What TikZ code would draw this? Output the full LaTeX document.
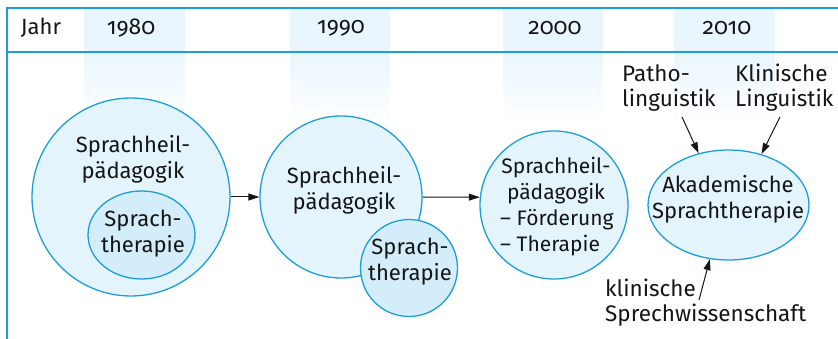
\documentclass[tikz,border=0pt]{standalone}
\usepackage{fontspec}
\setmainfont{Fira Sans}
\newfontfamily\yearfont[Numbers=OldStyle]{Fira Sans}
\usetikzlibrary{arrows.meta,shapes.geometric}
\definecolor{lineblue}{HTML}{1E9ED8}
\definecolor{circfill}{HTML}{E4F4FC}
\definecolor{innerfill}{HTML}{D4EDFA}
\definecolor{bandblue}{HTML}{EAF6FD}
\definecolor{ink}{HTML}{151515}
\begin{document}
\begin{tikzpicture}[x=1pt,y=-1pt,
  frame/.style={draw=lineblue,line width=2pt},
  hdr/.style={font=\fontsize{22}{26}\selectfont,text=ink,inner sep=0pt},
  yr/.style={font=\fontsize{23}{26}\yearfont,text=ink,inner sep=0pt},
  bigc/.style={circle,draw=lineblue,fill=circfill,line width=1.3pt,inner sep=0pt},
  innerc/.style={draw=lineblue,fill=innerfill,line width=1.3pt,inner sep=0pt},
  txt/.style={font=\fontsize{22}{26}\selectfont,text=ink,align=center,inner sep=0pt},
  smalltxt/.style={font=\fontsize{21}{26}\selectfont,text=ink,inner sep=0pt},
  lbl/.style={font=\fontsize{22.5}{25}\selectfont,text=ink,align=left,inner sep=0pt,anchor=west},
  arr/.style={draw=ink,line width=1pt,-{Triangle[length=11pt,width=7pt]}}]
\useasboundingbox (0,0) rectangle (838,339);
% year bands
\foreach \a/\b in {84/185,290/390,503/603,674/775}{
  \fill[bandblue] (\a,8) rectangle (\b,52);
  \shade[top color=bandblue,bottom color=white] (\a,52) rectangle (\b,125);
}
% frame
\draw[frame] (7,339) -- (7,8) -- (838,8);
\draw[frame] (7,52) -- (838,52);
% header
\node[hdr] (jahr) at (41,28) {Jahr};
\node[yr] (y1980) at (131,28) {1980};
\node[yr] (y1990) at (341,28) {1990};
\node[yr] (y2000) at (555,28) {2000};
\node[yr] (y2010) at (727,28) {2010};
% 1980
\node[bigc,minimum size=198pt] (c1) at (131,197) {};
\node[innerc,ellipse,minimum width=107pt,minimum height=88pt] (t1) at (141.5,235) {};
\node[txt] (s1) at (133,159) {Sprachheil-\\pädagogik};
\node[txt] (tt1) at (143,234) {Sprach-\\therapie};
% 1990
\node[bigc,minimum size=162pt] (c2) at (341,197) {};
\node[innerc,circle,minimum size=97pt] (t2) at (409,268) {};
\node[txt] (s2) at (344,190) {Sprachheil-\\pädagogik};
\node[txt] (tt2) at (410,262) {Sprach-\\therapie};
% 2000
\node[bigc,minimum size=148pt] (c3) at (554,205) {};
\node[smalltxt,align=center] (s3) at (556,181) {Sprachheil-\\pädagogik};
\node[smalltxt,align=left,anchor=west] (f3) at (500,233) {– Förderung\\– Therapie};
% 2010
\node[innerc,ellipse,fill=circfill,minimum width=161pt,minimum height=110pt] (e4) at (728.5,205) {};
\node[txt] (a4) at (728,199) {Akademische\\Sprachtherapie};
\node[lbl] (patho) at (622,88) {Patho-\\linguistik};
\node[lbl] (klin) at (735,88) {Klinische\\Linguistik};
\node[lbl] (sprech) at (605,303) {klinische\\Sprechwissenschaft};
\coordinate (pa) at (682,117);
\coordinate (kl) at (780,117);
\coordinate (sp) at (699,300);
% arrows
\draw[arr] (c1.east) -- (c2.west);
\draw[arr] (c2.east) -- (c3.174);
\draw[arr] (pa) -- (e4.120.7);
\draw[arr] (kl) -- (e4.57);
\draw[arr] (sp) -- (e4.251);
\end{tikzpicture}
\end{document}
